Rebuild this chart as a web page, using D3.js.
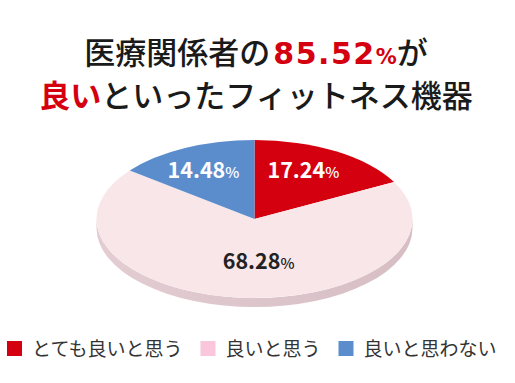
<!DOCTYPE html>
<html>
<head>
<meta charset="utf-8">
<script src="https://cdn.jsdelivr.net/npm/d3@7"></script>
<style>
  body { margin: 0; background: #fff; }
  svg { display: block; }
</style>
</head>
<body>
<svg id="chart"></svg>
<script>
const categories = ['とても良いと思う', '良いと思う', '良いと思わない'];
const values = [17.24, 68.28, 14.48];
const sliceColors = ['#d5000f', '#f9e6e9', '#5b8dcd'];
const legendColors = ['#d5000f', '#f9c6dc', '#5b8dcd'];
const labelColors = ['#ffffff', '#222222', '#ffffff'];
const headline = '85.52';

const W = 515, H = 383;
const font = '"Noto Sans CJK JP", "Noto Sans", sans-serif';

const svg = d3.select('#chart')
    .attr('width', W)
    .attr('height', H);

// Title

const title = svg.append('text')
    .attr('x', 256)
    .attr('y', 64)
    .attr('text-anchor', 'middle')
    .style('font-family', font)
    .style('font-size', '31px')
    .style('font-weight', 500)
    .attr('fill', '#1a1a1a');

title.append('tspan').text('医療関係者の');
title.append('tspan')
    .attr('fill', '#d5000f')
    .style('font-family', '"DejaVu Sans", sans-serif')
    .style('font-weight', 700)
    .style('font-size', '30px')
    .style('letter-spacing', '1.5px')
    .attr('dx', 3)
    .text(headline);
title.append('tspan')
    .attr('fill', '#d5000f')
    .style('font-family', '"DejaVu Sans", sans-serif')
    .style('font-weight', 700)
    .style('font-size', '21px')
    .text('%');
title.append('tspan').text('が');

const title2 = svg.append('text')
    .attr('x', 256)
    .attr('y', 107)
    .attr('text-anchor', 'middle')
    .style('font-family', font)
    .style('font-size', '31px')
    .style('font-weight', 500)
    .attr('fill', '#1a1a1a');

title2.append('tspan')
    .attr('fill', '#d5000f')
    .style('font-weight', 700)
    .text('良い');
title2.append('tspan').text('といったフィットネス機器');

// Pie (tilted)

const cx = 254.5, cy = 219, rx = 158, ry = 79, depth = 9;

const pie = d3.pie().sort(null).value(d => d);
const arcs = pie(values);

const arc = d3.arc().innerRadius(0).outerRadius(rx);

// side wall
const sidePath = `M${cx - rx},${cy} A${rx},${ry} 0 0 0 ${cx + rx},${cy} L${cx + rx},${cy + depth} A${rx},${ry} 0 0 1 ${cx - rx},${cy + depth} Z`;

const grad = svg.append('defs').append('linearGradient')
    .attr('id', 'sideGrad')
    .attr('x1', 0).attr('x2', 1).attr('y1', 0).attr('y2', 0);
grad.append('stop').attr('offset', '0%').attr('stop-color', '#e3cdd2');
grad.append('stop').attr('offset', '50%').attr('stop-color', '#dcc5cb');
grad.append('stop').attr('offset', '100%').attr('stop-color', '#d6bec4');

svg.append('path')
    .attr('d', sidePath)
    .attr('fill', 'url(#sideGrad)');

const pieG = svg.append('g')
    .attr('transform', `translate(${cx},${cy}) scale(1,${ry / rx})`);

pieG.selectAll('path')
    .data(arcs)
    .join('path')
    .attr('d', arc)
    .attr('fill', (d, i) => sliceColors[i]);

// Labels

const labelK = [0.6, 0.5, 0.62];
const labelShift = [[0, -8], [11, 3], [-8, -5]];

arcs.forEach((d, i) => {
    const a = (d.startAngle + d.endAngle) / 2;
    const lx = cx + rx * labelK[i] * Math.sin(a) + labelShift[i][0];
    const ly = cy - ry * labelK[i] * Math.cos(a) + labelShift[i][1];
    const t = svg.append('text')
        .attr('x', lx)
        .attr('y', ly)
        .attr('dy', '0.35em')
        .attr('text-anchor', 'middle')
        .attr('fill', labelColors[i])
        .style('font-family', font)
        .style('font-weight', 700)
        .style('font-size', '21.5px');
    t.append('tspan').text(values[i].toFixed(2));
    t.append('tspan').style('font-size', '15px').style('font-weight', 500).text('%');
});

// Legend

const legend = svg.append('g');
let lx = 7;
categories.forEach((c, i) => {
    legend.append('rect')
        .attr('x', lx)
        .attr('y', 341)
        .attr('width', 15)
        .attr('height', 15)
        .attr('fill', legendColors[i]);
    const txt = legend.append('text')
        .attr('x', lx + 25)
        .attr('y', 349)
        .attr('dy', '0.35em')
        .attr('fill', '#333')
        .style('font-family', font)
        .style('font-size', '19px')
        .text(c);
    lx = lx + 25 + txt.node().getComputedTextLength() + 18;
});
</script>
</body>
</html>
